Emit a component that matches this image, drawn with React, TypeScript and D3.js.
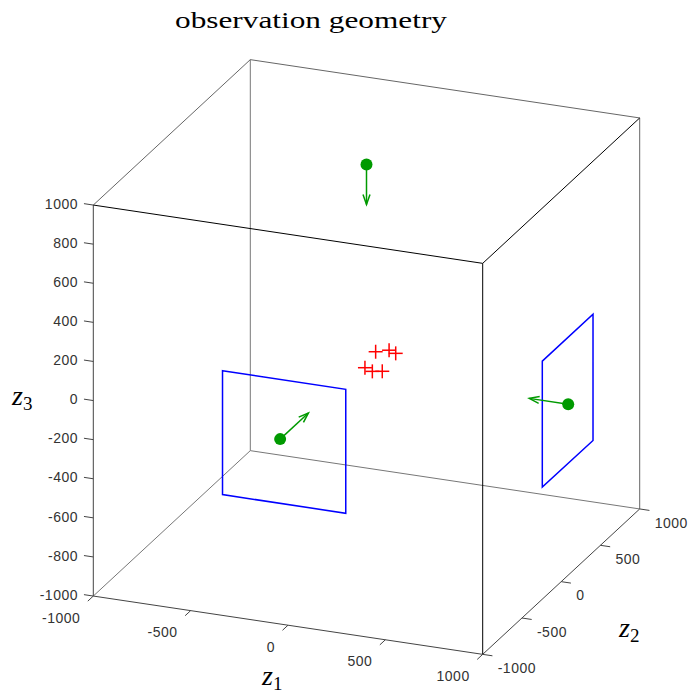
import React from 'react';
import * as d3 from 'd3';

// axis limits and ticks
const lim = [-1000, 1000];
const z1Ticks = [-1000, -500, 0, 500, 1000];
const z2Ticks = [-1000, -500, 0, 500, 1000];
const z3Ticks = [-1000, -800, -600, -400, -200, 0, 200, 400, 600, 800, 1000];

// camera centres and viewing directions
const camPos = [
  [0, 0, 985],
  [1036, 0, -87],
  [0, -1100, -11],
];
const camDir = [
  [0, 0, -205],
  [-200, 0, 0],
  [0, 360, 0],
];

// image planes (corner lists)
const planeRight = [
  [1036, -330, 256],
  [1036, 316, 256],
  [1036, 316, -390],
  [1036, -330, -388],
];
const planeFront = [
  [-296, -1100, 295],
  [337, -1100, 294],
  [337, -1100, -340],
  [-296, -1100, -339],
];

// observed points
const pts = [
  [47, 0, 34],
  [116, 0, 52],
  [150, 0, 41],
  [-8, 0, -56],
  [30, 0, -69],
  [81, 0, -61],
];

type V3 = number[];

// orthographic view, one scale per screen component
const cx = 366.5;
const cy = 357;
const x1 = d3.scaleLinear().domain(lim).range([-194.7, 194.7]);
const y1 = d3.scaleLinear().domain(lim).range([-29.15, 29.15]);
const x2 = d3.scaleLinear().domain(lim).range([-78.5, 78.5]);
const y2 = d3.scaleLinear().domain(lim).range([72.7, -72.7]);
const y3 = d3.scaleLinear().domain(lim).range([195.5, -195.5]);

const proj = (p: V3): [number, number] => [
  cx + x1(p[0]) + x2(p[1]),
  cy + y1(p[0]) + y2(p[1]) + y3(p[2]),
];

const seg = (a: V3, b: V3, key: string, stroke: string, w = 1) => {
  const [ax, ay] = proj(a);
  const [bx, by] = proj(b);
  return <line key={key} x1={ax} y1={ay} x2={bx} y2={by} stroke={stroke} strokeWidth={w} />;
};

const L = lim[0];
const H = lim[1];

export default function App() {
  const tickFont = { fontFamily: '"Liberation Sans", Arial, sans-serif', fontSize: 14, fill: '#333', letterSpacing: 0.5 };
  const serif = '"Liberation Serif", "Times New Roman", serif';
  const line = d3.line();

  const arrows = camPos.map((p, i) => {
    const tip = [p[0] + camDir[i][0], p[1] + camDir[i][1], p[2] + camDir[i][2]];
    const [sx, sy] = proj(p);
    const [tx, ty] = proj(tip);
    const len = Math.hypot(tx - sx, ty - sy);
    const ux = (tx - sx) / len;
    const uy = (ty - sy) / len;
    const h = 10;
    const w = 3.5;
    const hx = tx - h * ux;
    const hy = ty - h * uy;
    return (
      <g key={'cam' + i}>
        <line x1={sx} y1={sy} x2={tx} y2={ty} stroke="#009a00" strokeWidth={1.5} />
        <path
          d={line([[hx - w * uy, hy + w * ux], [tx, ty], [hx + w * uy, hy - w * ux]]) || ''}
          fill="none"
          stroke="#009a00"
          strokeWidth={1.5}
        />
        <circle cx={sx} cy={sy} r={6} fill="#009a00" />
      </g>
    );
  });

  const plane = (c: V3[], key: string) => (
    <path
      key={key}
      d={(line(c.map(proj)) || '') + 'Z'}
      fill="none"
      stroke="#0000ff"
      strokeWidth={1.5}
    />
  );

  return (
    <svg width={691} height={698} style={{ position: 'absolute', left: 0, top: 0, background: '#fff' }}>
      {/* hidden box edges */}
      {seg([L, H, L], [L, L, L], 'b1', '#777')}
      {seg([L, H, L], [H, H, L], 'b2', '#777')}
      {seg([L, H, L], [L, H, H], 'b3', '#777')}
      {seg([L, L, H], [L, H, H], 'b4', '#666')}
      {seg([L, H, H], [H, H, H], 'b5', '#666')}
      {seg([H, H, L], [H, H, H], 'b6', '#666')}

      {plane(planeFront, 'pf')}
      {plane(planeRight, 'pr')}

      {pts.map((p, i) => {
        const [x, y] = proj(p);
        return (
          <g key={'pt' + i} stroke="#ff0000" strokeWidth={1.5}>
            <line x1={x - 7} y1={y} x2={x + 7} y2={y} />
            <line x1={x} y1={y - 7} x2={x} y2={y + 7} />
          </g>
        );
      })}

      {arrows}

      {/* axes */}
      {seg([L, L, L], [H, L, L], 'ax1', '#444')}
      {seg([H, L, L], [H, H, L], 'ax2', '#444')}
      {seg([L, L, L], [L, L, H], 'ax3', '#444')}

      {/* front box edges */}
      {seg([L, L, H], [H, L, H], 'f1', '#000')}
      {seg([H, L, H], [H, H, H], 'f2', '#000')}
      {seg([H, L, L], [H, L, H], 'f3', '#000')}

      {z1Ticks.map(t => {
        const [x, y] = proj([t, L, L]);
        return (
          <g key={'t1' + t}>
            {seg([t, L, L], [t, L - 70, L], 'tk', '#444')}
            <text x={x - 13} y={y + 23} textAnchor="end" dominantBaseline="middle" {...tickFont}>{t}</text>
          </g>
        );
      })}
      {z2Ticks.map(t => {
        const [x, y] = proj([H, t, L]);
        return (
          <g key={'t2' + t}>
            {seg([H, t, L], [H + 50, t, L], 'tk', '#444')}
            <text x={x + 15} y={y + 15} textAnchor="start" dominantBaseline="middle" {...tickFont}>{t}</text>
          </g>
        );
      })}
      {z3Ticks.map(t => {
        const [, y] = proj([L, L, t]);
        return (
          <g key={'t3' + t}>
            {seg([L, L, t], [L - 48, L, t], 'tk', '#444')}
            <text x={78} y={y} textAnchor="end" dominantBaseline="middle" {...tickFont}>{t}</text>
          </g>
        );
      })}

      <text x={311} y={28} textAnchor="middle" fontFamily={serif} fontSize={23} textLength={272} lengthAdjust="spacingAndGlyphs" fill="#000">
        observation geometry
      </text>

      <text x={262} y={685} fontFamily={serif} fontSize={28} fill="#000">
        <tspan fontStyle="italic">z</tspan>
        <tspan fontSize={19} dy={5}>1</tspan>
      </text>
      <text x={619} y={637} fontFamily={serif} fontSize={28} fill="#000">
        <tspan fontStyle="italic">z</tspan>
        <tspan fontSize={19} dy={5}>2</tspan>
      </text>
      <text x={12} y={405} fontFamily={serif} fontSize={28} fill="#000">
        <tspan fontStyle="italic">z</tspan>
        <tspan fontSize={19} dy={5}>3</tspan>
      </text>
    </svg>
  );
}
